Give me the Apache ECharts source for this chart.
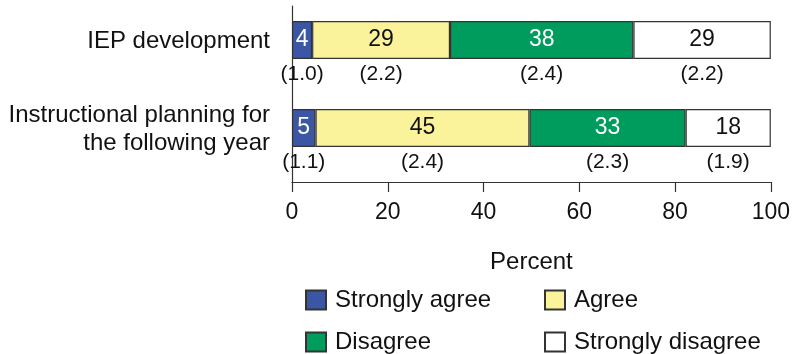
<!DOCTYPE html>
<html>
<head>
<meta charset="utf-8">
<script src="https://cdn.jsdelivr.net/npm/echarts@6/dist/echarts.min.js"></script>
<style>
  html, body { margin: 0; padding: 0; background: #fff; }
  #chart { width: 793px; height: 354px; }
</style>
</head>
<body>
<div id="chart"></div>
<script>
var categories = ['IEP development', 'Instructional planning for\nthe following year'];
var seriesNames = ['Strongly agree', 'Agree', 'Disagree', 'Strongly disagree'];

// percent values (labels show them rounded)
var stronglyAgree = [4.2, 4.9];
var agree = [28.8, 44.7];
var disagree = [38.3, 32.6];
var stronglyDisagree = [28.7, 17.8];

// standard errors shown under each segment
var seStronglyAgree = ['1.0', '1.1'];
var seAgree = ['2.2', '2.4'];
var seDisagree = ['2.4', '2.3'];
var seStronglyDisagree = ['2.2', '1.9'];

var xTicks = [0, 20, 40, 60, 80, 100];

var colors = ['#3b56a5', '#fbf39c', '#009c5d', '#ffffff'];
var labelColors = ['#ffffff', '#111111', '#ffffff', '#111111'];
var font = '"Liberation Sans", Arial, sans-serif';

var values = [stronglyAgree, agree, disagree, stronglyDisagree];
var errors = [seStronglyAgree, seAgree, seDisagree, seStronglyDisagree];

var chart = echarts.init(document.getElementById('chart'));

var series = [];
for (var i = 0; i < seriesNames.length; i++) {
  series.push({
    name: seriesNames[i],
    type: 'bar',
    stack: 'main',
    barWidth: 38,
    barGap: '0%',
    data: values[i],
    itemStyle: { color: colors[i], borderColor: '#333', borderWidth: 1.2 },
    label: {
      show: true,
      position: 'inside',
      color: labelColors[i],
      fontSize: 23,
      fontFamily: font,
      formatter: function (p) { return Math.round(p.value); }
    }
  });
}
// invisible second stack underneath, only to carry the standard error labels
for (var j = 0; j < seriesNames.length; j++) {
  (function (se) {
    series.push({
      name: 'se' + j,
      type: 'bar',
      stack: 'se',
      barWidth: 20,
      barGap: '0%',
      silent: true,
      data: values[j],
      itemStyle: { color: 'rgba(0,0,0,0)' },
      label: {
        show: true,
        position: 'inside',
        offset: [0, 5],
        color: '#111',
        fontSize: 21,
        fontFamily: font,
        formatter: function (p) { return '(' + se[p.dataIndex] + ')'; }
      }
    });
  })(errors[j]);
}

var legendText = { fontSize: 24, lineHeight: 24, color: '#111', fontFamily: font, padding: [0, 0, 0, 4] };

var option = {
  animation: false,
  backgroundColor: '#fff',
  grid: { left: 292, right: 21, top: 6, bottom: 172 },
  legend: [
    {
      orient: 'vertical',
      left: 305,
      top: 288,
      height: 80,
      padding: 0,
      itemGap: 18,
      itemWidth: 20,
      itemHeight: 19,
      icon: 'rect',
      selectedMode: false,
      textStyle: legendText,
      data: [seriesNames[0], seriesNames[2]]
    },
    {
      orient: 'vertical',
      left: 544,
      top: 288,
      height: 80,
      padding: 0,
      itemGap: 18,
      itemWidth: 20,
      itemHeight: 19,
      icon: 'rect',
      selectedMode: false,
      textStyle: legendText,
      data: [seriesNames[1], seriesNames[3]]
    }
  ],
  xAxis: {
    type: 'value',
    min: xTicks[0],
    max: xTicks[xTicks.length - 1],
    interval: 20,
    name: 'Percent',
    nameLocation: 'middle',
    nameGap: 68,
    nameTextStyle: { fontSize: 24, color: '#111', fontFamily: font },
    axisLine: { show: true, lineStyle: { color: '#333', width: 1.2 } },
    axisTick: { show: true, length: 10, lineStyle: { color: '#333', width: 1.2 } },
    splitLine: { show: false },
    axisLabel: { fontSize: 23, color: '#111', fontFamily: font, margin: 19 }
  },
  yAxis: {
    type: 'category',
    inverse: true,
    data: categories,
    axisLine: { show: true, lineStyle: { color: '#333', width: 1.2 } },
    axisTick: { show: false },
    axisLabel: {
      fontSize: 24,
      color: '#111',
      fontFamily: font,
      margin: 22,
      lineHeight: 28,
      // empty last line lifts the label to sit level with its bar
      formatter: function (v) { return v + '\n{s| }'; },
      rich: { s: { fontSize: 10, lineHeight: 17 } }
    }
  },
  series: series
};

chart.setOption(option);
</script>
</body>
</html>
